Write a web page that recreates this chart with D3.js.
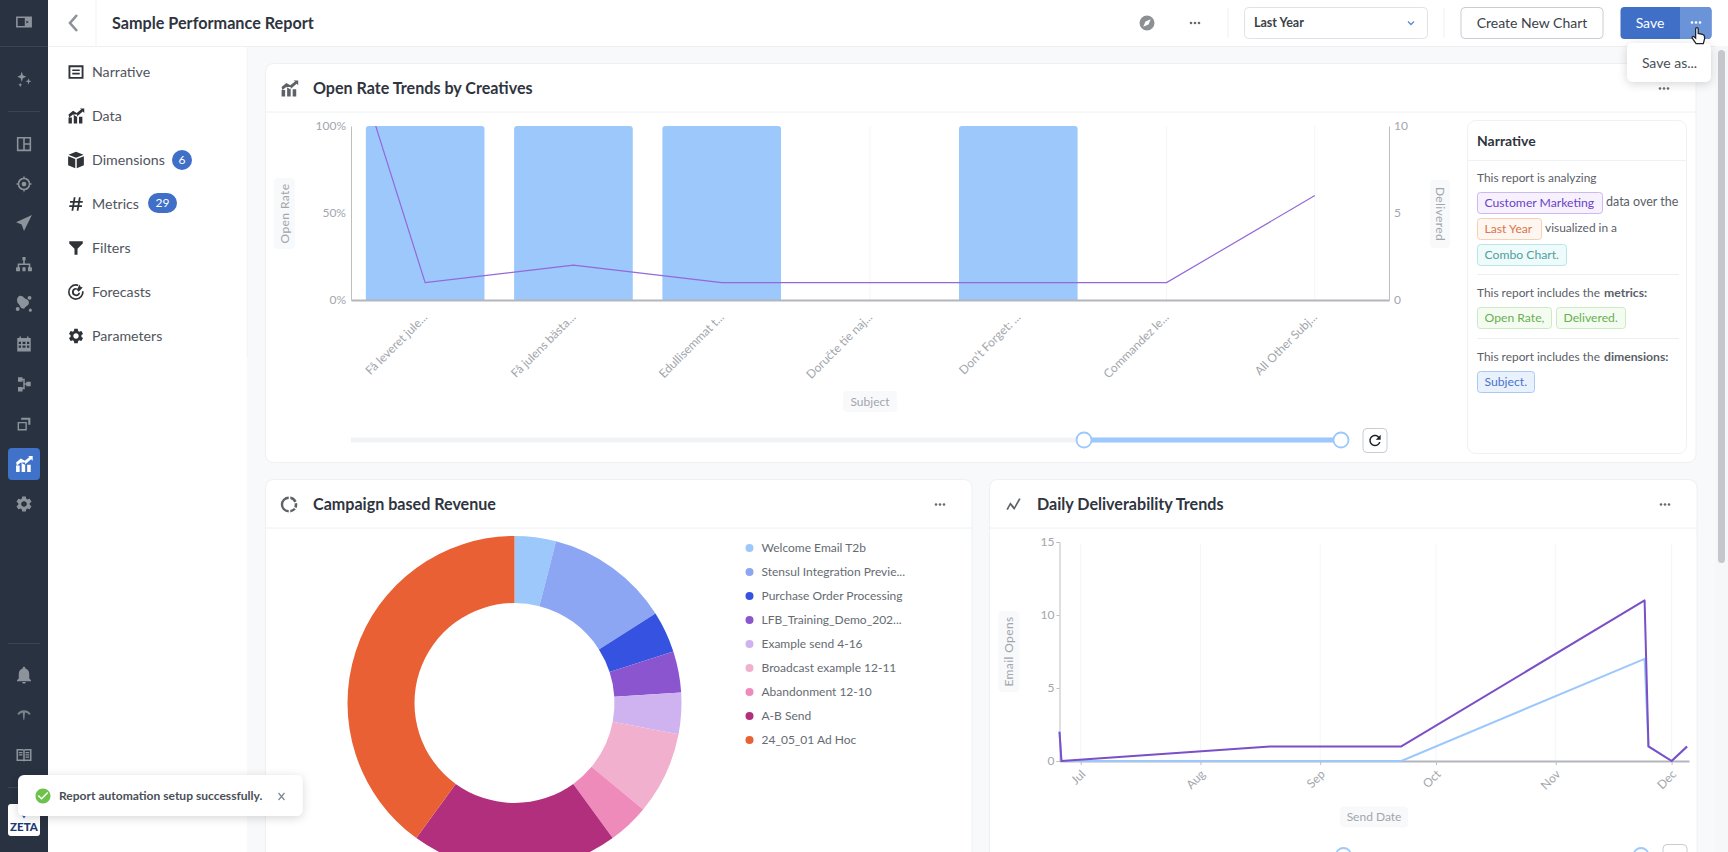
<!DOCTYPE html>
<html>
<head>
<meta charset="utf-8">
<script src="https://cdn.jsdelivr.net/npm/d3@7"></script>
<style>
  html, body { margin: 0; padding: 0; background: #f8f9fb; overflow: hidden; }
  svg { display: block; }
  text { font-family: Lato, sans-serif; }
</style>
</head>
<body>
<div id="chart"></div>
<script>
// combo chart
const subjects = ['Få leveret jule...', 'Få julens bästa...', 'Edullisemmat t...', 'Doručte tie naj...', "Don't Forget: ...", 'Commandez le...', 'All Other Subj...'];
const openRate = [1, 1, 1, 0, 1, 0, 0];
const delivered = [1, 2, 1, 1, 1, 1, 6];
const deliveredBeforeWindow = 28; // point left of the slider window, only its slope shows
const rateTicks = [0, 0.5, 1];
const deliveredTicks = [0, 5, 10];

// donut
const campaigns = ['Welcome Email T2b', 'Stensul Integration Previe...', 'Purchase Order Processing', 'LFB_Training_Demo_202...', 'Example send 4-16', 'Broadcast example 12-11', 'Abandonment 12-10', 'A-B Send', '24_05_01 Ad Hoc'];
const revenue = [1, 3, 1, 1, 1, 2, 1, 5, 10];
const campaignColors = ['#9cc8fb', '#8da6f4', '#3652e0', '#8a55cf', '#cfb2f0', '#f2b0cf', '#ef8bbb', '#b12f7c', '#e86033'];

// line chart
const sendDates = ['2024-06-25T12:00', '2024-06-26', '2024-08-19', '2024-09-22', '2024-11-24', '2024-11-25', '2024-12-01', '2024-12-05'];
const opensPurple = [2, 0, 1, 1, 11, 1, 0, 1];
const opensBlue = [2, 0, 0, 0, 7, 1, 0, 1];
const opensTicks = [0, 5, 10, 15];
const monthTicks = ['2024-07-01', '2024-08-01', '2024-09-01', '2024-10-01', '2024-11-01', '2024-12-01'];

const navItems = ['Narrative', 'Data', 'Dimensions', 'Metrics', 'Filters', 'Forecasts', 'Parameters'];

const blue = '#9cc8fb';
const purple = '#7b4fc6';
const tickColor = '#a2a6ac';
const railIcon = '#8d939b';

const svg = d3.select('#chart').append('svg')
  .attr('width', 1728)
  .attr('height', 852);

const defs = svg.append('defs');
const shadow = defs.append('filter').attr('id', 'shadow')
  .attr('x', '-20%').attr('y', '-40%').attr('width', '140%').attr('height', '180%');
shadow.append('feDropShadow')
  .attr('dx', 0).attr('dy', 2).attr('stdDeviation', 5)
  .attr('flood-color', '#000').attr('flood-opacity', 0.16);

function label(parent, x, y, str, opts = {}) {
  return parent.append('text')
    .attr('x', x)
    .attr('y', y)
    .attr('dy', '.35em')
    .attr('font-size', opts.size || 13)
    .attr('font-weight', opts.weight || 400)
    .attr('fill', opts.color || '#555a62')
    .attr('text-anchor', opts.anchor || 'start')
    .text(str);
}

function box(parent, x, y, w, h, r, fill, stroke) {
  return parent.append('rect')
    .attr('x', x).attr('y', y)
    .attr('width', w).attr('height', h)
    .attr('rx', r)
    .attr('fill', fill)
    .attr('stroke', stroke || 'none');
}

function hline(parent, x1, x2, y, color) {
  parent.append('line').attr('x1', x1).attr('x2', x2).attr('y1', y).attr('y2', y).attr('stroke', color);
}

function vline(parent, x, y1, y2, color) {
  parent.append('line').attr('x1', x).attr('x2', x).attr('y1', y1).attr('y2', y2).attr('stroke', color);
}

function dots(parent, x, y, color) {
  [-4, 0, 4].forEach((dx) => {
    parent.append('circle').attr('cx', x + dx).attr('cy', y).attr('r', 1.3).attr('fill', color);
  });
}

// icon paths are in a 24 box
const icons = {
  panel: 'M2 5h20v14H2zM4 7v10h9V7zm11 3v4l3-2z',
  sparkle: 'M9 2l1.5 5L15 9l-4.500 2L9 16l-1.500-5L3 9l4.500-2zM18 11l1 3 3 1-3 1-1 3.500-1-3.500-3-1 3-1zM7 17l.8 2 2 .8-2 .8L7 23l-.8-2.400-2-.8 2-.8z',
  layout: 'M3 3h18v18H3zM5 5v14h6V5zm8 0v6h6V5zm0 8v6h6v-6z',
  target: 'M12 1l1 3.100a8 8 0 0 1 6.900 6.900L23 12l-3.100 1a8 8 0 0 1-6.900 6.900L12 23l-1-3.100A8 8 0 0 1 4.100 13L1 12l3.100-1A8 8 0 0 1 11 4.100zm0 5a6 6 0 1 0 0 12 6 6 0 0 0 0-12zm0 3a3 3 0 1 1 0 6 3 3 0 0 1 0-6z',
  send: 'M22 2L2 11l7 3 3 8z',
  tree: 'M10 2h4v4h-1v4h7v5h2v5h-5v-5h1v-3h-6v3h2v5H10v-5h2v-3H6v3h1v5H2v-5h2v-5h7V6h-1z',
  blob: 'M6 3c3-1 5 1 7 3 2 2 4 1 5 4s-1 5-3 6-2 4-5 3-3-4-5-6-3-8 1-10zM19 3a2.500 2.500 0 1 1 0 5 2.500 2.500 0 0 1 0-5zM4 17a2.500 2.500 0 1 1 0 5 2.500 2.500 0 0 1 0-5zM20 19a2 2 0 1 1 0 4 2 2 0 0 1 0-4z',
  calendar: 'M3 4h3V2h2v2h8V2h2v2h3v18H3zM5 9v3h3V9zm5 0v3h4V9zm6 0v3h3V9zM5 14v3h3v-3zm5 0v3h4v-3zm6 0v3h3v-3z',
  flow: 'M4 3h6v6H4zM15 9h6v6h-6zM4 16h6v6H4zM10 5h3v6h2v2h-4V7h-1zM11 13h2v6h-3v-2h1z',
  stack: 'M8 3h13v10h-3V6H8zM3 9h13v12H3zm2 2v8h9v-8z',
  combo: 'M2 14h4.500v8H2zM9 10h4.500v12H9zM16 13h4.500v9H16zM2 10l6-5 5 3 6-5-2-1h6v6l-2-2-8 7-5-3-5 4z',
  gear: 'M19.140 12.940c.04-.3.06-.61.06-.94 0-.32-.02-.64-.07-.94l2.030-1.580c.18-.14.23-.41.12-.61l-1.920-3.320c-.12-.22-.37-.29-.59-.22l-2.390.96c-.5-.38-1.030-.7-1.620-.94l-.36-2.540c-.04-.24-.24-.41-.48-.41h-3.840c-.24 0-.43.17-.47.41l-.36 2.540c-.59.24-1.130.57-1.620.94l-2.390-.96c-.22-.08-.47 0-.59.22L2.740 8.870c-.12.21-.08.47.12.61l2.030 1.580c-.05.3-.09.63-.09.94s.02.64.07.94l-2.030 1.580c-.18.14-.23.41-.12.61l1.920 3.320c.12.22.37.29.59.22l2.390-.96c.5.38 1.030.7 1.620.94l.36 2.540c.05.24.24.41.48.41h3.840c.24 0 .44-.17.47-.41l.36-2.540c.59-.24 1.130-.56 1.620-.94l2.390.96c.22.08.47 0 .59-.22l1.920-3.320c.12-.22.07-.47-.12-.61l-2.010-1.580zM12 15.600c-1.980 0-3.600-1.620-3.600-3.600s1.620-3.600 3.600-3.600 3.600 1.620 3.600 3.600-1.620 3.600-3.600 3.600z',
  bell: 'M12 22c1.100 0 2-.9 2-2h-4c0 1.100.9 2 2 2zm6-6v-5c0-3.070-1.630-5.640-4.500-6.320V4c0-.83-.67-1.500-1.500-1.500s-1.500.67-1.500 1.500v.68C7.640 5.360 6 7.920 6 11v5l-2 2v1h16v-1l-2-2z',
  gauge: 'M12 5a13 13 0 0 1 10 5l-2 2a10 10 0 0 0-6.500-3.800l-1 11H11L10 8.200A10 10 0 0 0 4 12l-2-2a13 13 0 0 1 10-5z',
  book: 'M2 4h9l1 1 1-1h9v16h-9l-1 1-1-1H2zm2 2v12h7V6zm9 0v12h7V6zM5 8h5v1.500H5zm0 3h5v1.500H5zm9-3h5v1.500h-5zm0 3h5v1.500h-5zm0 3h5v1.500h-5z',
  narrative: 'M2 3h20v18H2zM4.500 5.500v13h15v-13zM7 8.500h10v2.200H7zm0 4.500h10v2.200H7z',
  cube: 'M12 1l10 4-10 4L2 5zM1.500 7l9.500 3.800V23l-9.500-4zM22.500 7L13 10.800V23l9.500-4z',
  hash: 'M9 3h2.400l-.8 5h4.500l.8-5h2.400l-.8 5H21v2.400h-3.900l-.6 3.200H20V16h-3.900l-.8 5h-2.400l.8-5H9.200l-.8 5H6l.8-5H3v-2.400h4.200l.6-3.200H4V8h4.200zm1.200 7.400l-.6 3.200h4.500l.6-3.200z',
  funnel: 'M3 3h18v3l-7 7v8h-4v-8L3 6z',
  forecast: 'M12 1.500a10.500 10.500 0 0 1 3 .4v2.400A8.300 8.300 0 1 0 20 11h2.300A10.500 10.500 0 1 1 12 1.500zm0 5a5.500 5.500 0 0 1 1 .1v2.300A3.200 3.200 0 1 0 15.300 13h2.200A5.500 5.500 0 1 1 12 6.500zM17 2l1 3 3 1-5.500 5.500L13 9z',
  donut: 'M13 2a10 10 0 0 1 8 6l-3 1.500A7 7 0 0 0 13 5zM21.500 10a10 10 0 0 1-.5 6.500L18 15a7 7 0 0 0 .3-4.300zM20 18a10 10 0 0 1-7 4v-3a7 7 0 0 0 4.500-2.500zM11 22A10 10 0 0 1 11 2v3a7 7 0 0 0 0 14z',
  zig: 'M3 18l5-9 5 6 6-11 2 1-8 14-5-6-3 6z',
  compass: 'M12 2a10 10 0 1 1 0 20 10 10 0 0 1 0-20zm5 5l-7 3-3 7 7-3z',
  refresh: 'M17.650 6.350C16.200 4.900 14.210 4 12 4c-4.420 0-7.990 3.580-7.990 8s3.570 8 7.990 8c3.730 0 6.840-2.550 7.730-6h-2.080c-.82 2.330-3.040 4-5.650 4-3.310 0-6-2.690-6-6s2.690-6 6-6c1.660 0 3.140.69 4.220 1.780L13 11h7V4l-2.350 2.350z',
  check: 'M12 2C6.480 2 2 6.480 2 12s4.480 10 10 10 10-4.480 10-10S17.520 2 12 2zm-2 15l-5-5 1.410-1.410L10 14.170l7.590-7.590L19 8l-9 9z',
};

function icon(parent, name, cx, cy, size, color) {
  const k = size / 24;
  return parent.append('path')
    .attr('d', icons[name])
    .attr('fill', color)
    .attr('fill-rule', 'evenodd')
    .attr('transform', `translate(${cx - size / 2},${cy - size / 2}) scale(${k})`);
}

// ---- app shell ----
box(svg, 48, 46, 199, 806, 0, '#fff');
box(svg, 48, 0, 1680, 46, 0, '#fff');
hline(svg, 48, 1728, 46.5, '#eceef1');
vline(svg, 96, 0, 46, '#f0f1f4');
vline(svg, 247, 46, 358, '#f3f4f6');

label(svg, 112, 23, 'Sample Performance Report', { size: 16.2, weight: 700, color: '#2f3540' });
svg.append('path').attr('d', 'M77 15l-7 8 7 8').attr('fill', 'none').attr('stroke', '#8e9298').attr('stroke-width', 2.6);

icon(svg, 'compass', 1147, 23, 18, '#8c8f94');
dots(svg, 1195, 23, '#666b73');
vline(svg, 1228, 8, 38, '#eff0f3');
box(svg, 1244.5, 7.5, 183, 31, 4, '#fff', '#dfe2e6');
label(svg, 1254, 23, 'Last Year', { size: 12.5, weight: 700, color: '#3c4149' });
svg.append('path').attr('d', 'M1408 21.5l3 3 3-3').attr('fill', 'none').attr('stroke', '#5a8ad0').attr('stroke-width', 1.3);
vline(svg, 1444, 8, 38, '#eff0f3');
box(svg, 1461, 7.5, 142, 31, 4, '#fff', '#c9ccd1');
label(svg, 1532, 23, 'Create New Chart', { size: 14, color: '#3c4149', anchor: 'middle' });

box(svg, 1620.5, 7, 91, 32, 4, '#3f6fc6');
svg.append('path').attr('d', 'M1680 7h27.5a4 4 0 0 1 4 4v24a4 4 0 0 1-4 4H1680z').attr('fill', '#6a93d8');
label(svg, 1650, 23, 'Save', { size: 14, color: '#fff', anchor: 'middle' });
dots(svg, 1696, 22.5, '#fff');

// left rail
box(svg, 0, 0, 48, 852, 0, '#283240');
const railTop = [['panel', 22, 19], ['sparkle', 79, 18], ['layout', 144, 19], ['target', 184, 19], ['send', 223, 19], ['tree', 265, 19], ['blob', 303, 19], ['calendar', 344, 18], ['flow', 384, 18], ['stack', 424, 17]];
railTop.forEach(([name, y, size]) => icon(svg, name, 24, y, size, railIcon));
box(svg, 8, 448, 32, 32, 4, '#3f72c8');
icon(svg, 'combo', 24, 464, 19, '#fff');
icon(svg, 'gear', 24, 504, 19, railIcon);
icon(svg, 'bell', 24, 675, 21, railIcon);
icon(svg, 'gauge', 24, 715, 16, '#7b828b');
icon(svg, 'book', 24, 755, 18, railIcon);
[46, 111, 643, 787].forEach((y, i) => hline(svg, i < 1 ? 0 : 8, i < 1 ? 48 : 40, y + 0.5, '#3a4452'));
box(svg, 8, 804, 32, 32, 3, '#fff');
svg.append('path').attr('d', 'M20 811l4 6 4-6').attr('fill', 'none').attr('stroke', '#2f62c0').attr('stroke-width', 1.8);
label(svg, 24, 827, 'ZETA', { size: 11.5, weight: 900, color: '#1c3a78', anchor: 'middle' });

// config nav
const navIcons = ['narrative', 'combo', 'cube', 'hash', 'funnel', 'forecast', 'gear'];
navItems.forEach((name, i) => {
  const y = 72 + i * 44;
  icon(svg, navIcons[i], 76, y, 18, '#2f3338');
  label(svg, 92, y, name, { size: 14.2, color: '#4f545c' });
});
box(svg, 172, 150, 20, 20, 10, '#3f6fc6');
label(svg, 182, 160, '6', { size: 12, color: '#fff', anchor: 'middle' });
box(svg, 148, 193, 29, 20, 10, '#3f6fc6');
label(svg, 162.5, 203, '29', { size: 12, color: '#fff', anchor: 'middle' });

function card(x, y, w, h, title, iconName, dotsX) {
  box(svg, x, y, w, h, 8, '#fff', '#eef0f3');
  hline(svg, x, x + w, y + 48.5, '#eef0f3');
  icon(svg, iconName, x + 24, y + 25, 19, '#5d6269');
  label(svg, x + 47.5, y + 24.5, title, { size: 16.1, weight: 700, color: '#2f3540' });
  dots(svg, dotsX, y + 25, '#666b73');
}

function axisTitle(parent, cx, cy, w, h, str, rotate) {
  box(parent, cx - w / 2, cy - h / 2, w, h, 4, '#f8f9fb');
  return parent.append('text')
    .attr('transform', `translate(${cx},${cy}) rotate(${rotate})`)
    .attr('text-anchor', 'middle')
    .attr('dy', '.35em')
    .attr('font-size', 12)
    .attr('letter-spacing', rotate ? 0.4 : 0)
    .attr('fill', '#a2a6ac')
    .text(str);
}

function styleAxis(g) {
  g.selectAll('text').attr('font-size', 12).attr('fill', tickColor).attr('font-family', 'Lato, sans-serif');
  g.selectAll('line').attr('stroke', '#bcbec2');
  g.select('.domain').attr('stroke', '#bcbec2');
}

function slider(parent, x1, x2, y, from, to) {
  if (x2 > x1) {
    parent.append('line').attr('x1', x1).attr('x2', x2).attr('y1', y).attr('y2', y)
      .attr('stroke', '#f2f3f5').attr('stroke-width', 5);
    parent.append('line').attr('x1', from).attr('x2', to).attr('y1', y).attr('y2', y)
      .attr('stroke', blue).attr('stroke-width', 5);
  }
  [from, to].forEach((cx) => {
    parent.append('circle').attr('cx', cx).attr('cy', y).attr('r', 7.5)
      .attr('fill', '#fff').attr('stroke', blue).attr('stroke-width', 1.8);
  });
}

// ---- combo chart card ----
card(265.5, 63.5, 1430.5, 399, 'Open Rate Trends by Creatives', 'combo', 1664);

const plot = { left: 351, right: 1389, top: 126, bottom: 300 };
const x = d3.scaleBand().domain(subjects).range([plot.left, plot.right]).paddingInner(0.2).paddingOuter(0.1);
const yRate = d3.scaleLinear().domain([0, 1]).range([plot.bottom, plot.top]);
const yDelivered = d3.scaleLinear().domain([0, 10]).range([plot.bottom, plot.top]);
const center = (s) => x(s) + x.bandwidth() / 2;

const combo = svg.append('g');
combo.selectAll('line.grid')
  .data(subjects)
  .join('line')
  .attr('class', 'grid')
  .attr('x1', center).attr('x2', center)
  .attr('y1', plot.top).attr('y2', plot.bottom)
  .attr('stroke', '#f4f5f7');

combo.selectAll('path.bar')
  .data(subjects.filter((s, i) => openRate[i] > 0))
  .join('path')
  .attr('class', 'bar')
  .attr('fill', blue)
  .attr('d', (s) => {
    const top = yRate(openRate[subjects.indexOf(s)]);
    const r = 3;
    return `M${x(s)},${plot.bottom}V${top + r}Q${x(s)},${top} ${x(s) + r},${top}H${x(s) + x.bandwidth() - r}Q${x(s) + x.bandwidth()},${top} ${x(s) + x.bandwidth()},${top + r}V${plot.bottom}Z`;
  });

defs.append('clipPath').attr('id', 'comboClip').append('rect')
  .attr('x', plot.left).attr('y', plot.top)
  .attr('width', plot.right - plot.left).attr('height', plot.bottom - plot.top);

const step = x.step();
const comboLine = d3.line().x((d) => d[0]).y((d) => yDelivered(d[1]));
combo.append('path')
  .datum([[center(subjects[0]) - step, deliveredBeforeWindow]].concat(subjects.map((s, i) => [center(s), delivered[i]])))
  .attr('clip-path', 'url(#comboClip)')
  .attr('fill', 'none')
  .attr('stroke', '#9468d8')
  .attr('stroke-width', 1.2)
  .attr('d', comboLine);

const comboLeft = combo.append('g')
  .attr('transform', `translate(${plot.left},0)`)
  .call(d3.axisLeft(yRate).tickValues(rateTicks).tickFormat(d3.format('.0%')).tickSize(0).tickPadding(5));
styleAxis(comboLeft);

const comboRight = combo.append('g')
  .attr('transform', `translate(${plot.right},0)`)
  .call(d3.axisRight(yDelivered).tickValues(deliveredTicks).tickSize(0).tickPadding(5));
styleAxis(comboRight);

const comboBottom = combo.append('g')
  .attr('transform', `translate(0,${plot.bottom})`)
  .call(d3.axisBottom(x).tickSize(0));
styleAxis(comboBottom);
comboBottom.select('.domain').attr('stroke', '#b3b6bb').attr('stroke-width', 2);
comboBottom.selectAll('text')
  .attr('text-anchor', 'end')
  .attr('y', 0)
  .attr('dy', '.35em')
  .attr('transform', 'translate(0,15) rotate(-45)');

axisTitle(combo, 284.5, 213.5, 21, 71, 'Open Rate', -90);
axisTitle(combo, 1440, 214, 20, 68, 'Delivered', 90);
axisTitle(combo, 870, 401.5, 54, 21, 'Subject', 0);

slider(combo, plot.left, 1341, 440, 1084, 1341);
box(combo, 1363, 428.5, 24, 24, 4, '#fff', '#c9ccd1');
icon(combo, 'refresh', 1375, 440.5, 17, '#1f2328');

// narrative panel
const narrative = svg.append('g');
box(narrative, 1467.5, 120.5, 219, 333, 8, '#fff', '#f0f1f3');
hline(narrative, 1468, 1687, 160.5, '#f0f1f3');
label(narrative, 1477, 141, 'Narrative', { size: 14, weight: 700, color: '#2f3540' });

function chip(cx, cy, w, h, str, color, stroke, fill) {
  box(narrative, cx + 0.5, cy + 0.5, w, h, 3, fill, stroke);
  label(narrative, cx + 7.5, cy + h / 2 + 0.5, str, { size: 12.2, color });
}

const bodyText = { size: 11.9, color: '#5b6068' };
label(narrative, 1477, 178, 'This report is analyzing', bodyText);
chip(1477, 192, 125, 21, 'Customer Marketing', '#6b3fc6', '#cdb8ef', '#f6f1fd');
label(narrative, 1606, 202, 'data over the', { ...bodyText, size: 12.5 });
chip(1477, 218, 64, 21, 'Last Year', '#e0744a', '#f7cfb5', '#fef6f0');
label(narrative, 1545, 228, 'visualized in a', bodyText);
chip(1477, 244, 89, 21, 'Combo Chart.', '#4f9fa0', '#b6e6ea', '#effafb');
hline(narrative, 1477, 1679, 274.5, '#eceef1');
label(narrative, 1477, 293, 'This report includes the', bodyText);
label(narrative, 1604, 293, 'metrics:', { ...bodyText, size: 12.2, weight: 700 });
chip(1477, 307, 74, 21, 'Open Rate,', '#69b04f', '#ccebc2', '#f4fcf1');
chip(1556, 307, 69, 21, 'Delivered.', '#69b04f', '#ccebc2', '#f4fcf1');
hline(narrative, 1477, 1679, 338.5, '#eceef1');
label(narrative, 1477, 357, 'This report includes the', bodyText);
label(narrative, 1604, 357, 'dimensions:', { ...bodyText, size: 12.2, weight: 700 });
chip(1477, 371, 57, 21, 'Subject.', '#4a72cc', '#a9c9f0', '#e9f2fc');

// ---- donut card ----
card(265.5, 479.5, 706.5, 420, 'Campaign based Revenue', 'donut', 940);

const pie = d3.pie().sort(null).value((d) => d);
const arc = d3.arc().innerRadius(100).outerRadius(167);
const colorScale = d3.scaleOrdinal().domain(campaigns).range(campaignColors);

svg.append('g')
  .attr('transform', 'translate(514.5,703)')
  .selectAll('path')
  .data(pie(revenue))
  .join('path')
  .attr('d', arc)
  .attr('fill', (d, i) => colorScale(campaigns[i]));

const legend = svg.append('g')
  .selectAll('g')
  .data(campaigns)
  .join('g')
  .attr('transform', (d, i) => `translate(749.5,${548 + i * 24})`);
legend.append('circle').attr('r', 4).attr('fill', (d) => colorScale(d));
legend.append('text')
  .attr('x', 12).attr('dy', '.35em')
  .attr('font-size', 12)
  .attr('fill', '#666b73')
  .text((d) => d);

// ---- line chart card ----
card(989.5, 479.5, 707.5, 420, 'Daily Deliverability Trends', 'zig', 1665);

const plot3 = { left: 1059.5, right: 1689, top: 542, bottom: 761 };
const parseDate = (s) => new Date(s.length > 10 ? s : `${s}T00:00`);
const dates = sendDates.map(parseDate);
const xTime = d3.scaleTime().domain([dates[0], parseDate('2024-12-05T12:00')]).range([plot3.left, plot3.right]);
const yOpens = d3.scaleLinear().domain([0, 15]).range([plot3.bottom, plot3.top]);
const months = monthTicks.map(parseDate);

const daily = svg.append('g');
daily.selectAll('line.grid')
  .data(months)
  .join('line')
  .attr('class', 'grid')
  .attr('x1', xTime).attr('x2', xTime)
  .attr('y1', plot3.top + 2).attr('y2', plot3.bottom)
  .attr('stroke', '#f4f5f7');

const dailyLeft = daily.append('g')
  .attr('transform', `translate(${plot3.left},0)`)
  .call(d3.axisLeft(yOpens).tickValues(opensTicks).tickSize(3).tickPadding(2));
styleAxis(dailyLeft);

const dailyBottom = daily.append('g')
  .attr('transform', `translate(0,${plot3.bottom})`)
  .call(d3.axisBottom(xTime).tickValues(months).tickFormat(d3.timeFormat('%b')).tickSize(4).tickSizeOuter(0));
styleAxis(dailyBottom);
dailyBottom.select('.domain').attr('stroke', '#b3b6bb').attr('stroke-width', 2);
dailyBottom.selectAll('text')
  .attr('text-anchor', 'end')
  .attr('y', 0)
  .attr('dy', '.35em')
  .attr('transform', 'translate(2,11) rotate(-45)');

const opensLine = d3.line().x((d, i) => xTime(dates[i])).y((d) => yOpens(d));
[[opensBlue, blue], [opensPurple, purple]].forEach(([values, color]) => {
  daily.append('path')
    .datum(values)
    .attr('fill', 'none')
    .attr('stroke', color)
    .attr('stroke-width', 2)
    .attr('stroke-linejoin', 'round')
    .attr('d', opensLine);
});

axisTitle(daily, 1009, 651.5, 21, 81, 'Email Opens', -90);
axisTitle(daily, 1374, 817, 68, 21, 'Send Date', 0);
slider(daily, 0, 0, 855.5, 1343.5, 1641);
box(daily, 1663, 844.5, 24, 24, 4, '#fff', '#c9ccd1');

// scrollbar
box(svg, 1715, 46, 13, 806, 0, '#f6f7f9');
box(svg, 1718, 50, 7, 513, 3.5, '#c4c7cc');

// save popup and cursor
const popup = svg.append('g');
box(popup, 1627, 43, 84, 39, 6, '#fff').attr('filter', 'url(#shadow)');
label(popup, 1669.5, 63, 'Save as...', { size: 14, color: '#4a4f57', anchor: 'middle' });
popup.append('path')
  .attr('transform', 'translate(1688,25) scale(0.85)')
  .attr('d', 'M9 11V4.5a1.5 1.5 0 0 1 3 0V10l5 1c1.5.3 2.5 1.5 2.5 3v2.5L18 22H9.5L5 15.5c-.8-1.2 1-2.7 2.2-1.6L9 15.5z')
  .attr('fill', '#fff')
  .attr('stroke', '#1f2328')
  .attr('stroke-width', 1.5);

// toast
const toast = svg.append('g');
box(toast, 18, 775, 284.5, 41, 6, '#fff').attr('filter', 'url(#shadow)');
icon(toast, 'check', 43, 796, 18, '#6cc24a');
label(toast, 59, 796, 'Report automation setup successfully.', { size: 12.05, weight: 700, color: '#4a4f57' });
toast.append('path').attr('d', 'M278.5 793l6 7m0-7l-6 7').attr('stroke', '#7d8794').attr('stroke-width', 1.2).attr('fill', 'none');
</script>
</body>
</html>
